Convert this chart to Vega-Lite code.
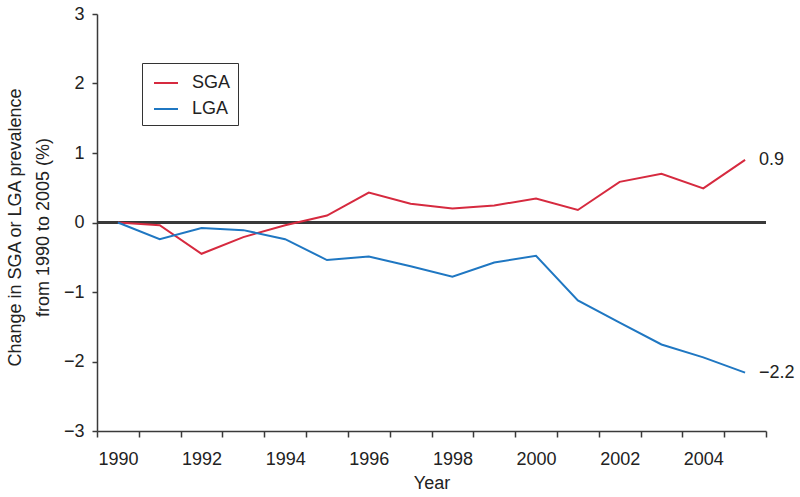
{
  "$schema": "https://vega.github.io/schema/vega-lite/v6.json",
  "width": 669,
  "height": 417,
  "autosize": "none",
  "padding": {"left": 97, "top": 14, "right": 34, "bottom": 66},
  "background": "white",
  "config": {
    "view": {"stroke": null},
    "font": "Liberation Sans",
    "axis": {
      "grid": false,
      "domainColor": "#3a3a3a",
      "domainWidth": 1.5,
      "tickColor": "#3a3a3a",
      "tickWidth": 1.5,
      "labelFont": "Liberation Sans",
      "labelFontSize": 18,
      "labelColor": "#222",
      "titleFont": "Liberation Sans",
      "titleFontSize": 18,
      "titleFontWeight": "normal",
      "titleColor": "#222"
    }
  },
  "data": {
    "values": [
      {"year": 1990, "series": "SGA", "value": 0.0},
      {"year": 1991, "series": "SGA", "value": -0.04},
      {"year": 1992, "series": "SGA", "value": -0.45},
      {"year": 1993, "series": "SGA", "value": -0.21},
      {"year": 1994, "series": "SGA", "value": -0.04},
      {"year": 1995, "series": "SGA", "value": 0.1},
      {"year": 1996, "series": "SGA", "value": 0.43},
      {"year": 1997, "series": "SGA", "value": 0.27},
      {"year": 1998, "series": "SGA", "value": 0.2},
      {"year": 1999, "series": "SGA", "value": 0.245},
      {"year": 2000, "series": "SGA", "value": 0.345},
      {"year": 2001, "series": "SGA", "value": 0.18},
      {"year": 2002, "series": "SGA", "value": 0.585},
      {"year": 2003, "series": "SGA", "value": 0.7},
      {"year": 2004, "series": "SGA", "value": 0.49},
      {"year": 2005, "series": "SGA", "value": 0.9},
      {"year": 1990, "series": "LGA", "value": 0.0},
      {"year": 1991, "series": "LGA", "value": -0.24},
      {"year": 1992, "series": "LGA", "value": -0.08},
      {"year": 1993, "series": "LGA", "value": -0.11},
      {"year": 1994, "series": "LGA", "value": -0.24},
      {"year": 1995, "series": "LGA", "value": -0.54},
      {"year": 1996, "series": "LGA", "value": -0.49},
      {"year": 1997, "series": "LGA", "value": -0.63},
      {"year": 1998, "series": "LGA", "value": -0.78},
      {"year": 1999, "series": "LGA", "value": -0.575},
      {"year": 2000, "series": "LGA", "value": -0.48},
      {"year": 2001, "series": "LGA", "value": -1.12},
      {"year": 2002, "series": "LGA", "value": -1.44},
      {"year": 2003, "series": "LGA", "value": -1.755},
      {"year": 2004, "series": "LGA", "value": -1.94},
      {"year": 2005, "series": "LGA", "value": -2.16}
    ]
  },
  "layer": [
    {
      "mark": {"type": "rule", "color": "#3a3a3a", "strokeWidth": 1.5},
      "encoding": {"y": {"datum": 0, "type": "quantitative"}}
    },
    {
      "mark": {"type": "line", "strokeWidth": 2},
      "encoding": {
        "x": {
          "field": "year",
          "type": "quantitative",
          "scale": {"domain": [1989.5, 2005.5], "nice": false, "zero": false},
          "axis": {
            "title": "Year",
            "values": [1989.5, 1990, 1990.5, 1991.5, 1992, 1992.5, 1993.5, 1994, 1994.5, 1995.5, 1996, 1996.5, 1997.5, 1998, 1998.5, 1999.5, 2000, 2000.5, 2001.5, 2002, 2002.5, 2003.5, 2004, 2004.5, 2005.5],
            "labelExpr": "datum.value % 2 === 0 ? '' + datum.value : ''",
            "tickOpacity": {"condition": {"test": "datum.value % 1 === 0", "value": 0}, "value": 1},
            "tickSize": 6,
            "labelPadding": 13,
            "labelOverlap": false,
            "labelFlush": false,
            "labelBound": false,
            "titleY": 43,
            "titleBaseline": "top"
          }
        },
        "y": {
          "field": "value",
          "type": "quantitative",
          "scale": {"domain": [-3, 3], "nice": false},
          "axis": {
            "title": ["Change in SGA or LGA prevalence", "from 1990 to 2005 (%)"],
            "values": [-3, -2, -1, 0, 1, 2, 3],
            "format": "d",
            "tickSize": 5,
            "labelPadding": 8,
            "titleAngle": -90,
            "titleX": -82,
            "titleY": 213,
            "titleAlign": "center",
            "titleBaseline": "middle",
            "titleLineHeight": 28
          }
        },
        "color": {
          "field": "series",
          "type": "nominal",
          "scale": {"domain": ["SGA", "LGA"], "range": ["#d62a3f", "#1f77c2"]},
          "legend": {
            "title": null,
            "orient": "none",
            "legendX": 45,
            "legendY": 49,
            "strokeColor": "#333",
            "padding": 7,
            "symbolType": "stroke",
            "symbolSize": 576,
            "symbolStrokeWidth": 2,
            "symbolOffset": 4,
            "labelFont": "Liberation Sans",
            "labelFontSize": 18,
            "labelColor": "#222",
            "labelOffset": 13,
            "rowPadding": 4,
            "labelExpr": "datum.label + '        '"
          }
        }
      }
    },
    {
      "transform": [{"filter": "datum.year === 2005"}],
      "mark": {"type": "text", "align": "left", "dx": 14, "fontSize": 18, "font": "Liberation Sans", "color": "#222"},
      "encoding": {
        "x": {
          "field": "year",
          "type": "quantitative",
          "axis": {
            "title": "Year",
            "values": [1989.5, 1990, 1990.5, 1991.5, 1992, 1992.5, 1993.5, 1994, 1994.5, 1995.5, 1996, 1996.5, 1997.5, 1998, 1998.5, 1999.5, 2000, 2000.5, 2001.5, 2002, 2002.5, 2003.5, 2004, 2004.5, 2005.5],
            "labelExpr": "datum.value % 2 === 0 ? '' + datum.value : ''",
            "tickOpacity": {"condition": {"test": "datum.value % 1 === 0", "value": 0}, "value": 1},
            "tickSize": 6,
            "labelPadding": 13,
            "labelOverlap": false,
            "labelFlush": false,
            "labelBound": false,
            "titleY": 43,
            "titleBaseline": "top"
          }
        },
        "y": {"field": "value", "type": "quantitative"},
        "text": {"field": "value", "type": "quantitative", "format": ".1f"}
      }
    }
  ]
}
